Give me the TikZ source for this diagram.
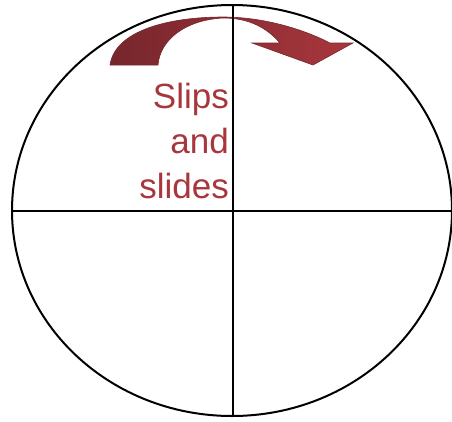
\documentclass[tikz,border=0pt]{standalone}
\usepackage{fontspec}
\usetikzlibrary{shapes.geometric}
\setmainfont{Liberation Sans}
\definecolor{slipred}{RGB}{168,55,61}
\definecolor{slipdark}{RGB}{118,38,44}
\begin{document}
\begin{tikzpicture}[x=1pt,y=-1pt,
  frame/.style={line width=2pt,black},
  axisline/.style={line width=1.6pt,black},
  bentarrow/.style={draw=slipdark,line width=0.6pt,left color=slipdark,right color=slipred},
  label/.style={text=slipred,font=\fontsize{35}{45}\selectfont,align=right,inner sep=0pt}]
\useasboundingbox (0,0) rectangle (452,421);
\node[frame,draw,ellipse,minimum width=440pt,minimum height=411pt,inner sep=0pt] (oval) at (232,210.5) {};
\coordinate (hl) at (12,211);
\coordinate (hr) at (452,211);
\coordinate (vt) at (233,5);
\coordinate (vb) at (233,416);
\draw[axisline] (hl) -- (hr);
\draw[bentarrow] (110,65) .. controls (115,30) and (170,17) .. (223,17)
  .. controls (265,17) and (305,30) .. (330,43)
  -- (353,43) -- (313,65) -- (252,43) -- (280,43)
  .. controls (262,22) and (240,18) .. (223,18)
  .. controls (185,20) and (160,40) .. (158,65) -- cycle;
\draw[axisline] (vt) -- (vb);
\node[label,anchor=north east] (txt) at (229,83) {Slips\\and\\slides};
\end{tikzpicture}
\end{document}
